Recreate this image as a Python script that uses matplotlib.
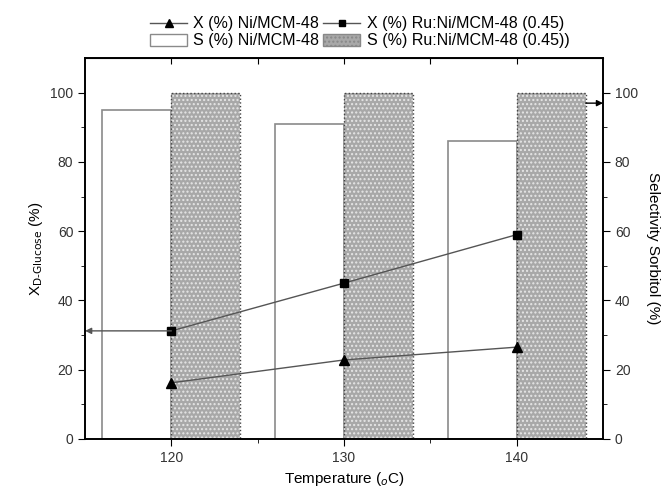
import matplotlib
matplotlib.use("Agg")
import matplotlib.pyplot as plt
from matplotlib.lines import Line2D
from matplotlib.patches import Patch

plt.rcParams['font.family'] = ['Liberation Sans', 'DejaVu Sans']

temps = [120, 130, 140]
x_ni = [16.2, 22.8, 26.5]          # conversion Ni/MCM-48
x_runi = [31.2, 45.0, 59.0]        # conversion Ru:Ni/MCM-48 (0.45)
s_ni = [95, 91, 86]                # selectivity Ni/MCM-48
s_runi = [100, 100, 100]           # selectivity Ru:Ni/MCM-48 (0.45)

lbl_x_ni = 'X (%) Ni/MCM-48'
lbl_x_runi = 'X (%) Ru:Ni/MCM-48 (0.45)'
lbl_s_ni = 'S (%) Ni/MCM-48'
lbl_s_runi = 'S (%) Ru:Ni/MCM-48 (0.45))'

fig = plt.figure(figsize=(6.7, 4.97), dpi=100)
ax = fig.add_axes([0.127, 0.117, 0.773, 0.766])
ax2 = ax.twinx()

# bars on the selectivity axis
ax2.bar(temps, s_ni, width=-4, align='edge', facecolor='white',
        edgecolor='#8a8a8a', linewidth=1.2)
ax2.bar(temps, s_runi, width=4, align='edge', facecolor='#a8a8a8',
        edgecolor='#e6e6e6', hatch='....', linewidth=0)
ax2.bar(temps, s_runi, width=4, align='edge', fill=False,
        edgecolor='#444444', linewidth=1.0, linestyle=':')

# conversion lines on top
ax.set_zorder(ax2.get_zorder() + 1)
ax.patch.set_visible(False)
ax.plot(temps, x_ni, color='#555555', lw=1, marker='^', ms=7,
        mfc='black', mec='black')
ax.plot(temps, x_runi, color='#555555', lw=1, marker='s', ms=6,
        mfc='black', mec='black')

# arrows pointing to the matching axis
ax.annotate('', xy=(115, x_runi[0]), xytext=(temps[0], x_runi[0]),
            arrowprops=dict(arrowstyle='-|>', color='#555555', lw=1,
                            mutation_scale=9, shrinkA=0, shrinkB=0))
ax.annotate('', xy=(145, 97), xytext=(144, 97),
            arrowprops=dict(arrowstyle='-|>', color='black', lw=1,
                            mutation_scale=9, shrinkA=0, shrinkB=0))

for a in (ax, ax2):
    a.set_xlim(115, 145)
    a.set_ylim(0, 110)
    a.set_yticks([0, 20, 40, 60, 80, 100])
    a.set_yticks(range(10, 100, 20), minor=True)
    a.tick_params(axis='y', which='major', direction='out', length=5,
                  labelsize=10, labelcolor='#333333')
    a.tick_params(axis='y', which='minor', direction='out', length=3)
    for s in a.spines.values():
        s.set_linewidth(1.2)

ax.set_xticks(temps)
ax.set_xticks([125, 135], minor=True)
ax.tick_params(axis='x', which='major', direction='out', length=5,
               labelsize=10, labelcolor='#333333')
ax.tick_params(axis='x', which='minor', direction='out', length=3)
top = ax.secondary_xaxis('top')
top.set_xticks([120, 125, 130, 135, 140])
top.tick_params(direction='in', length=4, labeltop=False)

ax.set_xlabel('Temperature ($_{o}$C)', fontsize=11)
ax.set_ylabel('X$_{\\mathrm{D\\text{-}Glucose}}$ (%)', fontsize=11)
ax2.set_ylabel('Selectivity Sorbitol (%)', fontsize=11, rotation=270, labelpad=16)

handles = [
    Line2D([], [], color='#555555', lw=1, marker='^', ms=6, mfc='black', mec='black'),
    Patch(facecolor='white', edgecolor='#8a8a8a'),
    Line2D([], [], color='#555555', lw=1, marker='s', ms=5, mfc='black', mec='black'),
    Patch(facecolor='#a8a8a8', edgecolor='#888888', hatch='....'),
]
labels = [lbl_x_ni, lbl_s_ni, lbl_x_runi, lbl_s_runi]
fig.legend(handles, labels, ncol=2, loc='center', bbox_to_anchor=(0.537, 0.935),
           frameon=False, fontsize=11.5, handlelength=2.3, handleheight=0.8,
           handletextpad=0.4, columnspacing=0.25, labelspacing=0.12, borderpad=0)

fig.savefig('out.png', dpi=100)
